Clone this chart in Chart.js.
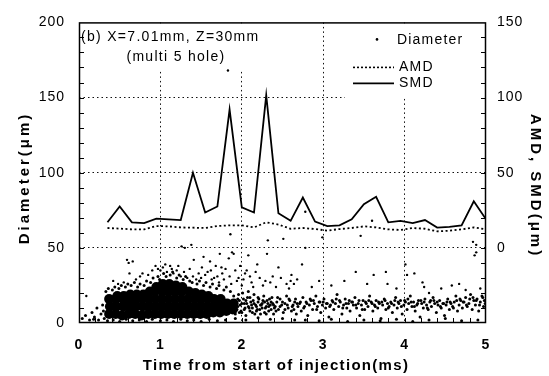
<!DOCTYPE html>
<html>
<head>
<meta charset="utf-8">
<title>Droplet diameter vs time</title>
<script src="https://cdn.jsdelivr.net/npm/chart.js"></script>
<style>
    body { margin: 0; background: #fff; }
    #wrap { width: 549px; height: 376px; }
</style>
</head>
<body>
<div id="wrap"><canvas id="dropChart" width="549" height="376"></canvas></div>
<script>
// sample times for the mean diameter curves (ms)
const times = [0.35, 0.5, 0.65, 0.8, 0.95, 1.1, 1.25, 1.4, 1.55, 1.7, 1.85, 2.0, 2.15, 2.3, 2.45, 2.6,
               2.75, 2.9, 3.05, 3.2, 3.35, 3.5, 3.65, 3.8, 3.95, 4.1, 4.25, 4.4, 4.55, 4.7, 4.85, 5.0];
// SMD and AMD (um, right axis)
const smd = [17, 27.5, 17, 16.5, 19.5, 19, 18.5, 50, 23.5, 27.5, 92, 27, 23.5, 101.5, 23, 18,
             33.5, 17.5, 14.5, 15, 19, 29, 34, 17, 18, 16.5, 18.5, 13.5, 14, 15, 31, 19];
const amd = [13.2, 12.8, 12.3, 12.3, 14.5, 14.3, 13.6, 13.4, 13.2, 14.5, 15, 15, 13.6, 17, 15.5, 12.7,
             13.2, 12.5, 11.5, 12.5, 13.2, 14.3, 13.6, 12.3, 11.9, 13.2, 12.7, 11, 11.4, 12.3, 13.6, 12.3];

// single droplets [time ms, diameter um] read off the cloud
// the solid black blob
const dropCore = [
    [0.37,6],[0.38,11],[0.37,16],
    [0.45,6],[0.46,11],[0.45,16],[0.47,18],
    [0.53,5],[0.54,11],[0.54,16],[0.55,18],
    [0.61,6],[0.62,10],[0.62,15],[0.63,19],
    [0.69,6],[0.70,11],[0.70,16],[0.71,19],
    [0.77,5],[0.78,11],[0.78,16],[0.79,19],
    [0.85,6],[0.86,11],[0.86,16],[0.87,21],
    [0.93,6],[0.94,11],[0.94,16],[0.93,21],[0.95,24],
    [1.01,6],[1.02,11],[1.02,16],[1.02,21],[1.03,26],
    [1.09,6],[1.10,11],[1.10,16],[1.10,21],[1.11,26],
    [1.17,6],[1.18,11],[1.18,16],[1.18,21],[1.19,25],
    [1.25,6],[1.26,11],[1.26,16],[1.26,21],[1.27,24],
    [1.33,6],[1.34,11],[1.34,16],[1.35,21],
    [1.41,6],[1.42,11],[1.42,16],[1.43,20],
    [1.49,6],[1.50,11],[1.50,16],[1.51,19],
    [1.57,6],[1.58,11],[1.58,16],[1.59,18],
    [1.65,7],[1.66,11],[1.66,16],
    [1.73,7],[1.74,12],[1.74,16],
    [1.81,8],[1.82,13],
    [1.89,9],[1.90,13]
];
// speckled band round the blob and along the tail
const dropBand = [
    [0.33,21],[0.36,23],[0.41,22],[0.44,24],[0.49,23],[0.52,25],[0.57,24],[0.6,26],[0.64,25],[0.68,27],
    [0.72,24],[0.75,26],[0.8,25],[0.83,28],[0.88,27],[0.91,30],[0.97,31],[0.99,29],[1.04,33],[1.07,31],
    [1.12,32],[1.15,34],[1.2,30],[1.23,32],[1.28,29],[1.31,31],[1.36,28],[1.39,27],[1.45,26],[1.48,28],
    [1.53,25],[1.56,27],[1.61,24],[1.64,26],[1.69,23],[1.72,25],[1.78,22],[1.81,24],[1.86,21],
    [0.31,3],[0.35,1.5],[0.42,2],[0.5,1],[0.58,2.5],[0.66,1.5],[0.74,2],[0.83,1],[0.9,2.5],[1.0,1.5],
    [1.08,2],[1.16,1],[1.25,2.5],[1.33,1.5],[1.41,2],[1.5,1],[1.6,2.5],[1.7,1.5],[1.8,2],[1.92,3],
    [2.05,2],[2.2,3.5],[2.35,2.5],[2.5,3],[2.65,2],
    [0.04,3],[0.08,5],[0.13,2],[0.16,7],[0.19,4],[0.22,10],[0.24,2],[0.27,6],[0.29,12],[0.3,8],[0.18,2.5],
    [1.9,18],[1.92,6],[1.95,11],[1.97,15],[1.99,8],[2.01,20],[2.03,13],[2.05,5],[2.07,17],[2.09,10],
    [2.11,14],[2.13,7],[2.15,19],[2.17,12],[2.19,9],[2.21,16],[2.23,6],[2.25,13],[2.27,18],[2.29,10],
    [2.31,15],[2.33,8],[2.35,12],[2.37,17],[2.39,6],[2.41,11],[2.43,14],[2.45,9],[2.47,16],[2.49,12],
    [2.51,7],[2.53,13],[2.55,18],[2.57,10],[2.59,15],[2.61,8],[2.63,12],[2.65,14],[2.67,6],[2.69,11],
    [1.91,14],[1.94,9],[1.96,19],[1.98,12],[2.0,7],[2.02,16],[2.04,10],[2.06,13],[2.08,21],[2.1,8],
    [2.12,12],[2.14,15],[2.16,6],[2.18,11],[2.2,14],[2.22,9],[2.24,12],[2.26,15],[2.28,7],[2.3,11],
    [2.32,13],[2.34,16],[2.36,9],[2.38,13],[2.4,10],
    [1.93,11],[1.95,16],[1.97,7],[2.0,13],[2.03,9],[2.05,15],[2.08,11],[2.1,17],[2.13,10],[2.15,13],
    [2.18,8],[2.2,17],[2.23,12],[2.25,10],[2.28,14],[2.3,6],[2.33,11],[2.36,14],[2.39,12],[2.42,8],
    [2.44,17],[2.47,11],[2.5,14],[2.53,9],[2.56,12],[2.58,16],[2.62,11],[2.64,9],[2.66,16],[2.68,13],
    [2.71,13],[2.73,8],[2.75,17],[2.77,11],[2.79,14],[2.81,5],[2.83,12],[2.85,15],[2.87,9],[2.89,13],
    [2.91,18],[2.93,11],[2.95,14],[2.97,7],[2.99,12],[3.01,16],[3.03,10],[3.05,13],[3.07,4],[3.09,12],
    [3.11,15],[3.13,9],[3.15,13],[3.17,19],[3.19,11],[3.21,14],[3.23,6],[3.25,12],[3.27,16],[3.29,10],
    [3.31,13],[3.33,8],[3.35,14],[3.37,12],[3.39,17],[3.41,10],[3.43,13],[3.45,5],[3.47,12],[3.49,15],
    [3.51,9],[3.53,13],[3.55,11],[3.57,18],[3.59,14],[3.61,8],[3.63,12],[3.65,15],[3.67,10],[3.69,13],
    [3.71,3],[3.73,12],[3.75,16],[3.77,9],[3.79,13],[3.81,11],[3.83,14],[3.85,7],[3.87,12],[3.89,17],
    [3.91,10],[3.93,13],[3.95,15],[3.97,6],[3.99,12],[4.01,14],[4.03,9],[4.05,13],[4.07,18],[4.09,11],
    [4.11,14],[4.13,8],[4.15,12],[4.17,15],[4.19,4],[4.21,13],[4.23,10],[4.25,16],[4.27,12],[4.29,9],
    [4.31,14],[4.33,11],[4.35,17],[4.37,13],[4.39,7],[4.41,12],[4.43,15],[4.45,10],[4.47,13],[4.49,5],
    [4.51,12],[4.53,16],[4.55,9],[4.57,13],[4.59,11],[4.61,14],[4.63,18],[4.65,8],[4.67,12],[4.69,15],
    [4.71,10],[4.73,14],[4.75,17],[4.77,11],[4.79,13],[4.81,19],[4.83,9],[4.85,15],[4.87,12],[4.89,16],
    [4.91,8],[4.93,14],[4.95,18],[4.97,11],[4.99,13],
    [2.72,14],[2.8,13],[2.88,15],[2.96,14],[3.04,13],[3.12,14],[3.2,15],[3.28,13],[3.36,14],[3.44,15],
    [3.52,14],[3.6,13],[3.68,14],[3.76,15],[3.84,13],[3.92,14],[4.0,15],[4.08,14],[4.16,13],[4.24,14],
    [4.32,15],[4.4,14],[4.48,13],[4.56,14],[4.64,15],[4.72,14],[4.8,16],[4.88,15],[4.96,17],
    [2.76,10],[2.84,16],[2.92,9],[3.0,14],[3.08,11],[3.16,16],[3.24,10],[3.32,15],[3.4,12],[3.48,9],
    [3.56,15],[3.64,11],[3.72,14],[3.8,10],[3.88,15],[3.96,11],[4.04,16],[4.12,11],[4.2,15],[4.28,10],
    [4.36,15],[4.44,11],[4.52,14],[4.6,10],[4.68,16],[4.76,12],[4.84,17],[4.92,12],[4.98,15],
    [2.78,2],[2.95,1.5],[3.1,2.5],[3.3,1],[3.5,2],[3.7,1.5],[3.9,2.5],[4.1,1],[4.3,2],[4.5,3],[4.7,1.5],[4.9,2]
];
// stray large droplets
const dropStray = [
    [0.09,18],[0.59,42],[0.61,40],[0.66,41],[0.78,33],[0.94,38],[1.0,35],[1.06,39],[1.14,36],[1.22,38],
    [1.26,51],[1.3,50],[1.38,52],[1.41,42],[1.47,33],[1.51,37],[1.53,44],[1.58,34],[1.61,41],[1.63,29],
    [1.7,31],[1.73,46],[1.75,37],[1.83,168],[1.84,43],[1.86,59],[1.88,47],[1.9,46],[1.96,30],[2.04,33],
    [2.08,45],[2.12,27],[2.19,39],[2.29,28],[2.31,46],[2.32,55],[2.38,31],[2.45,37],[2.51,56],[2.55,26],
    [2.6,28],[2.61,32],[2.68,29],[2.74,39],[2.78,50],[2.78,74],[2.86,24],[2.95,28],[2.99,57],[3.1,25],
    [3.26,28],[3.4,34],[3.46,58],[3.54,26],[3.6,68],[3.62,32],[3.77,34],[3.79,26],[3.9,23],[4.01,39],
    [4.03,32],[4.12,33],[4.22,27],[4.24,24],[4.3,20],[4.45,23],[4.58,25],[4.67,26],[4.75,22],[4.84,54],
    [4.86,45],[4.88,47],[4.88,52],[4.93,23],
    [1.62,35],[1.66,30],[1.68,38],[1.72,27],[1.76,33],[1.78,29],[1.8,36],[1.85,31],[1.87,26],[1.92,35],
    [1.94,28],[1.98,38],[2.0,25],[2.02,29],[2.06,35],[2.1,31],[2.14,24],[2.17,34],[2.22,30],[2.26,25],
    [2.35,27],[2.42,24],[2.48,30],[2.58,23],[2.64,26],
    [0.85,32],[0.9,35],[0.97,36],[1.03,37],[1.08,34],[1.12,38],[1.16,33],[1.2,35],[1.25,31],[1.29,34],
    [1.33,30],[1.36,36],[1.4,31],[1.44,29],[1.5,30],[1.55,32],[0.7,29],[0.75,31],[0.55,27],[0.48,26],
    [0.42,28],[0.62,33]
];

const timeTicks = [0, 1, 2, 3, 4, 5];
const diamTicks = [0, 50, 100, 150, 200];
const meanTicks = [0, 50, 100, 150];

const FONT = '"Liberation Sans", Arial, sans-serif';
Chart.defaults.color = '#000';
Chart.defaults.font.family = FONT;

const toXY = arr => arr.map(p => ({ x: p[0], y: p[1] }));
const curve = vals => vals.map((v, i) => ({ x: times[i], y: v }));

// dotted grid only on the inner ticks
const innerGrid = (lo, hi) => c => (c.tick && c.tick.value > lo && c.tick.value < hi) ? '#111' : 'rgba(0,0,0,0)';

function spaced(ctx, txt, x, y, font, spacing, align) {
    ctx.font = font;
    ctx.letterSpacing = spacing + 'px';
    ctx.textAlign = align || 'left';
    ctx.textBaseline = 'middle';
    ctx.fillText(txt, x, y);
}

const decor = {
    id: 'decor',
    beforeDraw(chart) {
        chart.ctx.letterSpacing = '1px';
    },
    beforeDatasetsDraw(chart) {
        const ctx = chart.ctx;
        const a = chart.chartArea;
        ctx.save();
        // boxes behind the caption and legend hide the grid
        ctx.fillStyle = '#fff';
        ctx.fillRect(a.left + 1, a.top + 1, 189, 46);
        ctx.fillRect(a.right - 141, a.top + 1, 140, 75);
        ctx.fillStyle = '#000';
        spaced(ctx, '(b) X=7.01mm, Z=30mm', a.left + 2, a.top + 15, '14px ' + FONT, 1.3);
        spaced(ctx, '(multi 5 hole)', a.left + 97, a.top + 35, '14px ' + FONT, 1.3, 'center');

        // legend
        const lx = a.right - 133, tx = a.right - 88;
        ctx.beginPath();
        ctx.arc(a.right - 109, a.top + 17, 1.3, 0, Math.PI * 2);
        ctx.fill();
        spaced(ctx, 'Diameter', tx - 1, a.top + 18, '14px ' + FONT, 1.2);
        ctx.strokeStyle = '#000';
        ctx.lineWidth = 1.6;
        ctx.setLineDash([2, 2]);
        ctx.beginPath(); ctx.moveTo(lx, a.top + 45); ctx.lineTo(lx + 41, a.top + 45); ctx.stroke();
        ctx.setLineDash([]);
        ctx.beginPath(); ctx.moveTo(lx, a.top + 61); ctx.lineTo(lx + 41, a.top + 61); ctx.stroke();
        spaced(ctx, 'AMD', tx + 1, a.top + 45, '14px ' + FONT, 1.2);
        spaced(ctx, 'SMD', tx + 1, a.top + 61, '14px ' + FONT, 1.2);
        ctx.restore();
    },
    afterDatasetsDraw(chart) {
        const ctx = chart.ctx;
        const a = chart.chartArea;
        const xs = chart.scales.x, ys = chart.scales.y;
        ctx.save();
        ctx.strokeStyle = '#000';
        ctx.lineWidth = 1;
        ctx.beginPath();
        for (let v = 10; v < 200; v += 10) {
            const py = Math.round(ys.getPixelForValue(v)) + 0.5;
            ctx.moveTo(a.left, py); ctx.lineTo(a.left + 5, py);
            ctx.moveTo(a.right, py); ctx.lineTo(a.right - 5, py);
        }
        for (let i = 1; i < 25; i++) {
            const px = Math.round(xs.getPixelForValue(i * 0.2)) + 0.5;
            ctx.moveTo(px, a.bottom); ctx.lineTo(px, a.bottom - 5);
        }
        ctx.stroke();
        ctx.lineWidth = 1.5;
        ctx.strokeRect(a.left + 0.5, a.top + 0.5, a.right - a.left - 1, a.bottom - a.top - 1);

        // axis titles
        ctx.fillStyle = '#000';
        spaced(ctx, 'Time from start of injection(ms)', 276, 366, 'bold 15px ' + FONT, 1.3, 'center');
        ctx.translate(25, 178);
        ctx.rotate(-Math.PI / 2);
        spaced(ctx, 'Diameter(μm)', 0, 0, 'bold 15px ' + FONT, 3, 'center');
        ctx.setTransform(1, 0, 0, 1, 0, 0);
        ctx.translate(535, 186);
        ctx.rotate(Math.PI / 2);
        spaced(ctx, 'AMD, SMD(μm)', 0, 0, 'bold 15px ' + FONT, 3, 'center');
        ctx.restore();
    }
};

new Chart(document.getElementById('dropChart'), {
    type: 'scatter',
    data: {
        datasets: [
            { label: 'Diameter', data: toXY(dropCore), yAxisID: 'y', pointRadius: 5, backgroundColor: '#000', borderWidth: 0 },
            { label: 'band', data: toXY(dropBand), yAxisID: 'y', pointRadius: 1.5, backgroundColor: '#000', borderWidth: 0 },
            { label: 'stray', data: toXY(dropStray), yAxisID: 'y', pointRadius: 1.2, backgroundColor: '#000', borderWidth: 0 },
            { type: 'line', label: 'AMD', data: curve(amd), yAxisID: 'y1', borderColor: '#000', borderWidth: 1.8,
              borderDash: [2, 2.5], pointRadius: 0, fill: false, tension: 0 },
            { type: 'line', label: 'SMD', data: curve(smd), yAxisID: 'y1', borderColor: '#000', borderWidth: 1.8,
              pointRadius: 0, fill: false, tension: 0 }
        ]
    },
    options: {
        responsive: false,
        animation: false,
        layout: { padding: { top: 16, left: 0, right: 0, bottom: 0 } },
        plugins: { legend: { display: false }, tooltip: { enabled: false } },
        scales: {
            x: {
                type: 'linear', min: 0, max: 5,
                afterFit: s => { s.height = 53; },
                afterBuildTicks: s => { s.ticks = timeTicks.map(v => ({ value: v })); },
                grid: { color: innerGrid(0, 5), lineWidth: 1, drawTicks: false },
                border: { display: false, dash: [1.5, 3] },
                ticks: { padding: 14, font: { size: 14, weight: 'bold' }, color: '#000' }
            },
            y: {
                position: 'left', min: 0, max: 200,
                afterFit: s => { s.width = 79; },
                afterBuildTicks: s => { s.ticks = diamTicks.map(v => ({ value: v })); },
                grid: { color: innerGrid(0, 200), lineWidth: 1, drawTicks: false },
                border: { display: false, dash: [1.5, 3] },
                ticks: { padding: 14, font: { size: 14 }, color: '#000' }
            },
            y1: {
                position: 'right', min: -50, max: 150,
                afterFit: s => { s.width = 63; },
                afterBuildTicks: s => { s.ticks = meanTicks.map(v => ({ value: v })); },
                grid: { display: false, drawTicks: false },
                border: { display: false },
                ticks: { padding: 11, font: { size: 14 }, color: '#000' }
            }
        }
    },
    plugins: [decor]
});
</script>
</body>
</html>
